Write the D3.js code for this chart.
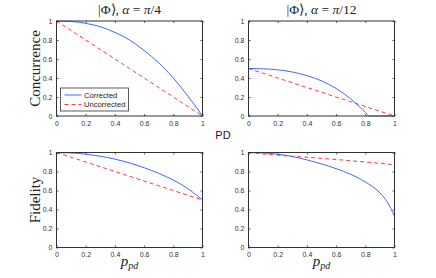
<html>
  <head>
    <script src="https://cdn.jsdelivr.net/npm/d3@7"></script>
    <meta charset="UTF-8">
    <style>
      body { margin: 0; background: #fff; }
      text { fill: #222; }
    </style>
  </head>
  <body>
    <svg id="chart" width="436" height="278"></svg>
    <script>
    // data
    var pd = [0, 0.1, 0.2, 0.3, 0.4, 0.5, 0.6, 0.7, 0.8, 0.9, 1];
    var pdFine = [0, 0.1, 0.2, 0.3, 0.4, 0.5, 0.6, 0.7, 0.8, 0.83, 0.9, 1];
    var pdEnd = [0, 0.1, 0.2, 0.3, 0.4, 0.5, 0.6, 0.7, 0.8, 0.9, 0.95, 1];

    var concCorr4 = [1, 0.995, 0.975, 0.94, 0.88, 0.8, 0.69, 0.56, 0.4, 0.21, 0];
    var concUnc4 = [1, 0.9, 0.8, 0.7, 0.6, 0.5, 0.4, 0.3, 0.2, 0.1, 0];
    var concCorr12 = [0.5, 0.497, 0.486, 0.463, 0.425, 0.37, 0.29, 0.18, 0.04, 0, 0, 0];
    var concUnc12 = [0.5, 0.45, 0.4, 0.35, 0.3, 0.25, 0.2, 0.15, 0.1, 0.05, 0];
    var fidCorr4 = [1, 0.995, 0.983, 0.96, 0.93, 0.89, 0.84, 0.78, 0.71, 0.62, 0.5];
    var fidUnc4 = [1, 0.95, 0.9, 0.85, 0.8, 0.75, 0.7, 0.65, 0.6, 0.55, 0.5];
    var fidCorr12 = [1, 0.995, 0.982, 0.958, 0.922, 0.88, 0.83, 0.77, 0.69, 0.575, 0.48, 0.33];
    var fidUnc12 = [1, 0.985, 0.972, 0.96, 0.95, 0.938, 0.926, 0.913, 0.9, 0.886, 0.872];

    var ticks = [0, 0.2, 0.4, 0.6, 0.8, 1];
    // title pieces: [text, italic?]
    var titles = [
      [["|\u03A6\u27E9, ", false], ["\u03B1", true], [" = ", false], ["\u03C0", true], ["/4", false]],
      [["|\u03A6\u27E9, ", false], ["\u03B1", true], [" = ", false], ["\u03C0", true], ["/12", false]]
    ];
    var legendNames = ["Corrected", "Uncorrected"];

    var blue = "#4466ff", red = "#ff3b3b";
    var svg = d3.select("#chart");

    var cols = [56.5, 248.5];
    var rows = [21, 152.5];
    var w = 146, h = 95;

    var panels = [
      {c: 0, r: 0, xs: [pd, pd], ys: [concCorr4, concUnc4]},
      {c: 1, r: 0, xs: [pdFine, pd], ys: [concCorr12, concUnc12]},
      {c: 0, r: 1, xs: [pd, pd], ys: [fidCorr4, fidUnc4]},
      {c: 1, r: 1, xs: [pdEnd, pd], ys: [fidCorr12, fidUnc12]}
    ];

    panels.forEach(function(p) {
      var g = svg.append("g").attr("transform", "translate(" + cols[p.c] + "," + rows[p.r] + ")");
      var x = d3.scaleLinear().domain([0, 1]).range([0, w]);
      var y = d3.scaleLinear().domain([0, 1]).range([h, 0]);

      var line = d3.line().x(function(d) { return x(d[0]); }).y(function(d) { return y(d[1]); })
        .curve(d3.curveMonotoneX);

      g.append("path").datum(d3.zip(p.xs[1], p.ys[1])).attr("d", line)
        .attr("fill", "none").attr("stroke", red).attr("stroke-width", 1)
        .attr("stroke-dasharray", "4,3");
      g.append("path").datum(d3.zip(p.xs[0], p.ys[0])).attr("d", line)
        .attr("fill", "none").attr("stroke", blue).attr("stroke-width", 1);

      // box + inward ticks
      var fmt = function(d) { return d3.format("~g")(d); };
      g.append("g").attr("transform", "translate(0," + h + ")")
        .call(d3.axisBottom(x).tickValues(ticks).tickFormat(fmt).tickSizeInner(-2).tickSizeOuter(0).tickPadding(5));
      g.append("g")
        .call(d3.axisLeft(y).tickValues(ticks).tickFormat(fmt).tickSizeInner(-2).tickSizeOuter(0).tickPadding(4));
      g.append("g").call(d3.axisTop(x).tickValues(ticks).tickFormat("").tickSizeInner(-2).tickSizeOuter(0));
      g.append("g").attr("transform", "translate(" + w + ",0)")
        .call(d3.axisRight(y).tickValues(ticks).tickFormat("").tickSizeInner(-2).tickSizeOuter(0));
      g.selectAll(".domain").remove();
      g.selectAll(".tick line").attr("stroke", "#333").attr("stroke-width", 0.8);
      g.selectAll(".tick text").attr("font-family", "Liberation Sans, Arial, sans-serif")
        .attr("font-size", 7).style("fill", "#333");
      g.append("rect").attr("width", w).attr("height", h)
        .attr("fill", "none").attr("stroke", "#333").attr("stroke-width", 1);

      if (p.r === 0) {
        var tt = g.append("text").attr("x", w / 2).attr("y", -7).attr("text-anchor", "middle")
          .attr("font-family", "Liberation Serif, serif").attr("font-size", 13.5);
        titles[p.c].forEach(function(s) {
          tt.append("tspan").attr("font-style", s[1] ? "italic" : "normal").text(s[0]);
        });
      }
      if (p.r === 1) {
        var t = g.append("text").attr("x", w / 2).attr("y", h + 18).attr("text-anchor", "middle")
          .attr("font-family", "Liberation Serif, serif").attr("font-style", "italic").attr("font-size", 15);
        t.append("tspan").text("p");
        t.append("tspan").attr("font-size", 10).attr("dy", 3).text("pd");
      }
      if (p.c === 0) {
        g.append("text").attr("transform", "translate(-17," + (h / 2) + ") rotate(-90)")
          .attr("text-anchor", "middle").attr("font-family", "Liberation Serif, serif")
          .attr("font-size", 15).text(p.r === 0 ? "Concurrence" : "Fidelity");
      }
      if (p.c === 0 && p.r === 0) {
        var lg = g.append("g").attr("transform", "translate(4,67)");
        lg.append("rect").attr("width", 68).attr("height", 23)
          .attr("fill", "#fff").attr("stroke", "#333").attr("stroke-width", 0.8);
        legendNames.forEach(function(n, i) {
          var yy = 7 + i * 9.5;
          lg.append("line").attr("x1", 4).attr("x2", 21).attr("y1", yy).attr("y2", yy)
            .attr("stroke", i === 0 ? blue : red).attr("stroke-width", 1)
            .attr("stroke-dasharray", i === 0 ? null : "4,3");
          lg.append("text").attr("x", 23.5).attr("y", yy + 2.6)
            .attr("font-family", "Liberation Sans, Arial, sans-serif").attr("font-size", 7.6)
            .style("fill", "#222").text(n);
        });
      }
    });

    svg.append("text").attr("x", 223).attr("y", 139).attr("text-anchor", "middle")
      .attr("font-family", "Liberation Sans, Arial, sans-serif").attr("font-size", 11)
      .style("fill", "#222").text("PD");
    </script>
  </body>
</html>
